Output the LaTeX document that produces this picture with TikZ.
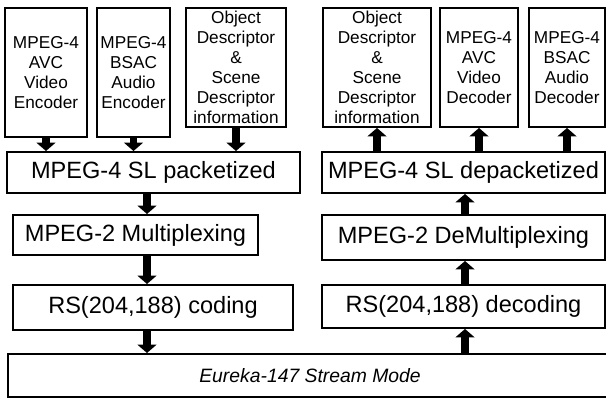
\documentclass[tikz,border=0pt]{standalone}
\usepackage{fontspec}
\setmainfont{Liberation Sans}
\usetikzlibrary{arrows.meta}

\begin{document}
\begin{tikzpicture}[
  blk/.style={draw, line width=1.1pt, align=center, inner sep=0pt,
    font=\fontsize{9.8}{11.4}\selectfont},
  bar/.style={draw, line width=1.1pt, inner sep=0pt,
    font=\fontsize{13.4}{15}\selectfont},
  pipe/.style={line width=4.5pt, -{Triangle[width=0.38cm,length=0.17cm]}}
]
\useasboundingbox (0,0) rectangle (12.12,-7.98);
\clip (0,0) rectangle (12.12,-7.98);

% sender side
\node[blk, minimum width=1.64cm, minimum height=2.58cm] (venc) at (0.92,-1.45) {MPEG-4\\AVC\\Video\\Encoder};
\node[blk, minimum width=1.46cm, minimum height=2.58cm] (aenc) at (2.67,-1.45) {MPEG-4\\BSAC\\Audio\\Encoder};
\node[blk, minimum width=2.0cm, minimum height=2.38cm] (odenc) at (4.72,-1.35) {Object\\Descriptor\\\&\\Scene\\Descriptor\\information};

\node[bar, minimum width=5.86cm, minimum height=0.82cm] (pack) at (3.07,-3.45) {MPEG-4 SL packetized};
\node[bar, minimum width=4.9cm, minimum height=0.8cm] (mux) at (2.71,-4.7) {MPEG-2 Multiplexing};
\node[bar, minimum width=5.6cm, minimum height=0.9cm] (rscod) at (3.06,-6.15) {RS(204,188) coding};

\node[draw, line width=1.1pt, inner sep=0pt, minimum width=12.08cm, minimum height=0.86cm,
  font=\fontsize{11}{12}\selectfont\itshape] (eureka) at (6.2,-7.51) {Eureka-147 Stream Mode};

% receiver side
\node[blk, minimum width=2.16cm, minimum height=2.38cm] (oddec) at (7.54,-1.35) {Object\\Descriptor\\\&\\Scene\\Descriptor\\information};
\node[blk, minimum width=1.56cm, minimum height=2.38cm] (vdec) at (9.58,-1.35) {MPEG-4\\AVC\\Video\\Decoder};
\node[blk, minimum width=1.52cm, minimum height=2.38cm] (adec) at (11.34,-1.35) {MPEG-4\\BSAC\\Audio\\Decoder};

\node[bar, minimum width=5.66cm, minimum height=0.82cm] (depack) at (9.27,-3.45) {MPEG-4 SL depacketized};
\node[bar, minimum width=5.66cm, minimum height=0.9cm] (demux) at (9.27,-4.75) {MPEG-2 DeMultiplexing};
\node[bar, minimum width=5.66cm, minimum height=0.86cm] (rsdec) at (9.27,-6.13) {RS(204,188) decoding};

\coordinate (lcol) at (2.94,0);
\coordinate (rcol) at (9.3,0);

% arrows
\draw[pipe] (venc.south) -- (venc.south |- pack.north);
\draw[pipe] (aenc.south) -- (aenc.south |- pack.north);
\draw[pipe] (odenc.south) -- (odenc.south |- pack.north);
\draw[pipe] (pack.south -| lcol) -- (mux.north -| lcol);
\draw[pipe] (mux.south -| lcol) -- (rscod.north -| lcol);
\draw[pipe] (rscod.south -| lcol) -- (eureka.north -| lcol);

\draw[pipe] (eureka.north -| rcol) -- (rsdec.south -| rcol);
\draw[pipe] (rsdec.north -| rcol) -- (demux.south -| rcol);
\draw[pipe] (demux.north -| rcol) -- (depack.south -| rcol);
\draw[pipe] (oddec.south |- depack.north) -- (oddec.south);
\draw[pipe] (vdec.south |- depack.north) -- (vdec.south);
\draw[pipe] (adec.south |- depack.north) -- (adec.south);
\end{tikzpicture}
\end{document}
